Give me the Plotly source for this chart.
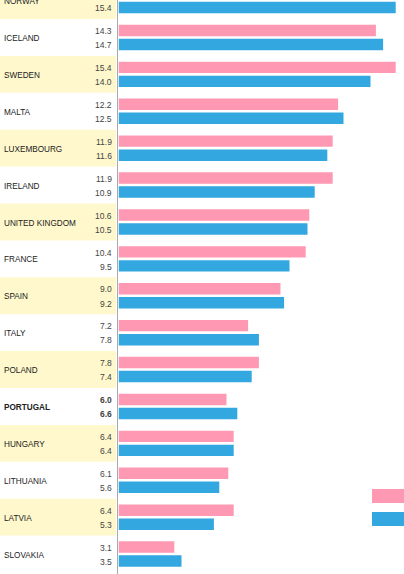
import plotly.graph_objects as go

countries = ["NORWAY", "ICELAND", "SWEDEN", "MALTA", "LUXEMBOURG", "IRELAND",
             "UNITED KINGDOM", "FRANCE", "SPAIN", "ITALY", "POLAND", "PORTUGAL",
             "HUNGARY", "LITHUANIA", "LATVIA", "SLOVAKIA"]
pink_vals = [15.0, 14.3, 15.4, 12.2, 11.9, 11.9, 10.6, 10.4, 9.0, 7.2, 7.8, 6.0, 6.4, 6.1, 6.4, 3.1]
blue_vals = [15.4, 14.7, 14.0, 12.5, 11.6, 10.9, 10.5, 9.5, 9.2, 7.8, 7.4, 6.6, 6.4, 5.6, 5.3, 3.5]
highlight = "PORTUGAL"

W, H = 404, 574
x0px = 118.5
PINK = "#FF99B3"
BLUE = "#33A7E0"
YELLOW = "#FFF8CC"

rows = list(range(len(countries)))
off = 0.19
bw = 0.31

fig = go.Figure()
fig.add_trace(go.Bar(y=[r - off for r in rows], x=pink_vals, orientation="h",
                     width=bw, marker=dict(color=PINK, line=dict(width=0)),
                     hoverinfo="skip", showlegend=False))
fig.add_trace(go.Bar(y=[r + off for r in rows], x=blue_vals, orientation="h",
                     width=bw, marker=dict(color=BLUE, line=dict(width=0)),
                     hoverinfo="skip", showlegend=False))

xd = x0px / W
shapes = []
annotations = []
fam = "Liberation Sans, Arial, sans-serif"
for r, c in enumerate(countries):
    if r % 2 == 0:
        shapes.append(dict(type="rect", xref="paper", yref="y", x0=0, x1=116 / W,
                           y0=r - 0.5, y1=r + 0.5, fillcolor=YELLOW,
                           line=dict(width=0), layer="below"))
    bold = c == highlight
    annotations.append(dict(xref="paper", yref="y", x=1.5 / W, y=r + 0.03,
                            text=("<b>%s</b>" % c) if bold else c,
                            showarrow=False, xanchor="left", yanchor="middle",
                            font=dict(size=8.2, color="#222", family=fam)))
    for v, dy in ((pink_vals[r], -off), (blue_vals[r], off)):
        t = "%.1f" % v
        if bold:
            t = "<b>%s</b>" % t
        annotations.append(dict(xref="paper", yref="y", x=114 / W, y=r + dy + 0.02, text=t,
                                showarrow=False, xanchor="right", yanchor="middle",
                                font=dict(size=8.5, color="#444", family=fam)))

# separator line
shapes.append(dict(type="line", xref="paper", yref="paper", x0=117.5 / W, x1=117.5 / W,
                   y0=0, y1=1, line=dict(color="#AAAAAA", width=1)))
# legend swatches (cropped legend)
shapes.append(dict(type="rect", xref="paper", yref="paper", x0=372 / W, x1=1.01,
                   y0=1 - 503 / H, y1=1 - 489 / H, fillcolor=PINK, line=dict(width=0)))
shapes.append(dict(type="rect", xref="paper", yref="paper", x0=372 / W, x1=1.01,
                   y0=1 - 526 / H, y1=1 - 512 / H, fillcolor=BLUE, line=dict(width=0)))

fig.update_layout(
    width=W, height=H,
    margin=dict(l=0, r=0, t=0, b=0),
    paper_bgcolor="white", plot_bgcolor="white",
    barmode="overlay",
    xaxis=dict(domain=[xd, 1], range=[0, (W - x0px) / 18.0], visible=False, fixedrange=True),
    yaxis=dict(domain=[0, 1], range=[15.54, -0.015], visible=False, fixedrange=True),
    shapes=shapes,
    annotations=annotations,
    showlegend=False,
)
fig.write_html("out.html")
